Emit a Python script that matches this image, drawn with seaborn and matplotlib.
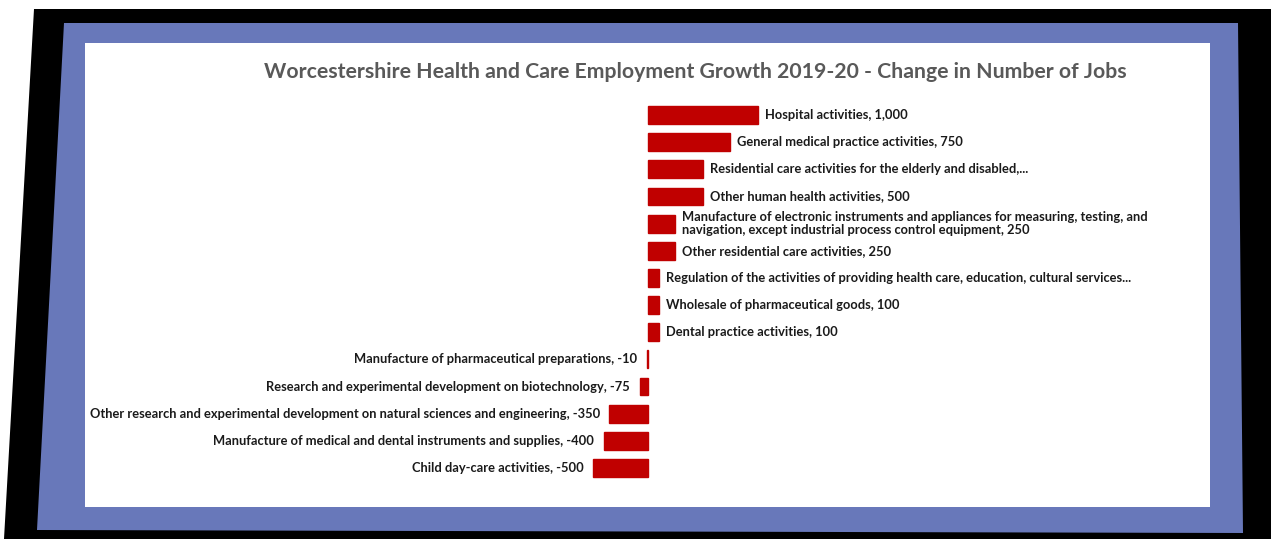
import seaborn as sns
import matplotlib
matplotlib.use("Agg")
import matplotlib.pyplot as plt
from matplotlib.patches import Polygon, Rectangle
import pandas as pd

# Data (change in number of jobs, 2019-20)
industries = [
    "Hospital activities",
    "General medical practice activities",
    "Residential care activities for the elderly and disabled",
    "Other human health activities",
    "Manufacture of electronic instruments",
    "Other residential care activities",
    "Regulation of the activities of providing health care",
    "Wholesale of pharmaceutical goods",
    "Dental practice activities",
    "Manufacture of pharmaceutical preparations",
    "Research and experimental development on biotechnology",
    "Other research and experimental development",
    "Manufacture of medical and dental instruments and supplies",
    "Child day-care activities",
]
values = [1000, 750, 500, 500, 250, 250, 100, 100, 100, -10, -75, -350, -400, -500]
labels = [
    "Hospital activities, 1,000",
    "General medical practice activities, 750",
    "Residential care activities for the elderly and disabled,...",
    "Other human health activities, 500",
    "Manufacture of electronic instruments and appliances for measuring, testing, and\n"
    "navigation, except industrial process control equipment, 250",
    "Other residential care activities, 250",
    "Regulation of the activities of providing health care, education, cultural services...",
    "Wholesale of pharmaceutical goods, 100",
    "Dental practice activities, 100",
    "Manufacture of pharmaceutical preparations, -10",
    "Research and experimental development on biotechnology, -75",
    "Other research and experimental development on natural sciences and engineering, -350",
    "Manufacture of medical and dental instruments and supplies, -400",
    "Child day-care activities, -500",
]
title = "Worcestershire Health and Care Employment Growth 2019-20 - Change in Number of Jobs"

df = pd.DataFrame({"industry": industries, "change": values})

sns.set_theme(style="white")
plt.rcParams["font.family"] = ["Lato", "DejaVu Sans"]

W, H = 1271, 539
fig = plt.figure(figsize=(W / 100, H / 100), dpi=100)
fig.patch.set_facecolor("white")


def px(points):
    return [(x / W, 1 - y / H) for x, y in points]


# picture frame: black border, blue mat, white card
fig.patches.append(Polygon(px([(34, 9), (1271, 9), (1271, 539), (4, 539)]),
                           closed=True, transform=fig.transFigure,
                           facecolor="black", edgecolor="none", zorder=0))
fig.patches.append(Polygon(px([(64, 23), (1238, 23), (1243, 533), (37, 530)]),
                           closed=True, transform=fig.transFigure,
                           facecolor="#6878BA", edgecolor="none", zorder=1))
fig.patches.append(Rectangle((85 / W, 1 - 507 / H), 1125 / W, 464 / H,
                             transform=fig.transFigure,
                             facecolor="white", edgecolor="none", zorder=2))

ax = fig.add_axes([85 / W, 1 - 507 / H, 1125 / W, 464 / H])
ax.set_zorder(3)
ax.patch.set_alpha(0)

sns.barplot(data=df, x="change", y="industry", orient="h", color="#C00000",
            width=0.66, saturation=1, edgecolor="#C00000", linewidth=1.0, ax=ax)

ax.set_xlim(-563 / 0.110, 562 / 0.110)
ax.set_ylim(13 + 39 / 27.15, -72 / 27.15)
ax.axis("off")

for i, (v, lab) in enumerate(zip(values, labels)):
    if v >= 0:
        ax.annotate(lab, (v, i), xytext=(5, 0), textcoords="offset points",
                    ha="left", va="center", fontsize=9.3, fontweight="bold",
                    color="#1a1a1a", linespacing=1.1)
    else:
        ax.annotate(lab, (v, i), xytext=(-7, 0), textcoords="offset points",
                    ha="right", va="center", fontsize=9.3, fontweight="bold",
                    color="#1a1a1a")

fig.text(695 / W, 1 - 72 / H, title, ha="center", va="center",
         fontsize=15.3, fontweight="bold", color="#595959", zorder=4)

fig.savefig("out.png", dpi=100)
